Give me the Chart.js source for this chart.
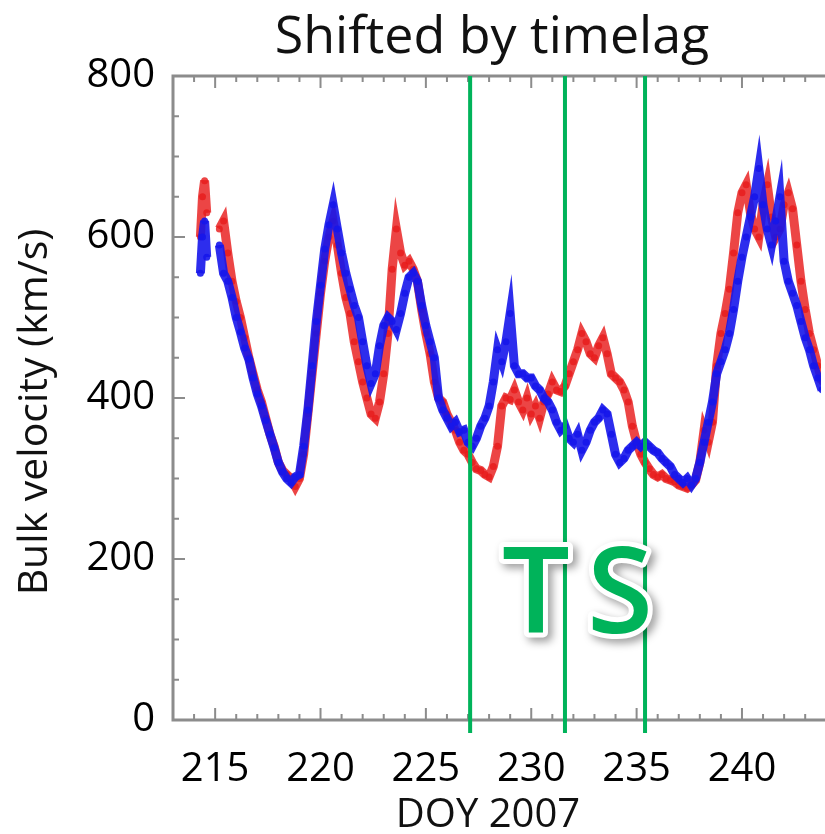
<!DOCTYPE html>
<html>
<head>
<meta charset="utf-8">
<script src="https://cdn.jsdelivr.net/npm/chart.js@4"></script>
<style>
  html, body { margin: 0; padding: 0; background: #fff; overflow: hidden; }
  #wrap { width: 825px; height: 834px; }
</style>
</head>
<body>
<div id="wrap"><canvas id="speedChart" width="825" height="834"></canvas></div>
<script>
// day of year 2007 (null value = data gap)
const days = [
  214.3, 214.4, 214.5, 214.6, 214.9,
  215.2, 215.4, 215.6, 215.8, 216.0, 216.2, 216.4, 216.6, 216.8, 217.0,
  217.2, 217.4, 217.6, 217.8, 218.0, 218.2, 218.4, 218.6, 218.8, 219.0,
  219.2, 219.4, 219.6, 219.8, 220.0, 220.2, 220.4, 220.6, 220.8, 221.0,
  221.2, 221.4, 221.6, 221.8, 222.0, 222.2, 222.4, 222.6, 222.8, 223.0,
  223.2, 223.4, 223.6, 223.8, 224.0, 224.2, 224.4, 224.6, 224.8, 225.0,
  225.2, 225.4, 225.6, 225.8, 226.0, 226.2, 226.4, 226.6, 226.8, 227.0,
  227.2, 227.4, 227.6, 227.8, 228.0, 228.2, 228.4, 228.6, 228.8, 229.0,
  229.2, 229.4, 229.6, 229.8, 230.0, 230.2, 230.4, 230.6, 230.8, 231.0,
  231.2, 231.4, 231.6, 231.8, 232.0, 232.2, 232.4, 232.6, 232.8, 233.0,
  233.2, 233.4, 233.6, 233.8, 234.0, 234.2, 234.4, 234.6, 234.8, 235.0,
  235.2, 235.4, 235.6, 235.8, 236.0, 236.2, 236.4, 236.6, 236.8, 237.0,
  237.2, 237.4, 237.6, 237.8, 238.0, 238.2, 238.4, 238.6, 238.8, 239.0,
  239.2, 239.4, 239.6, 239.8, 240.0, 240.2, 240.4, 240.6, 240.8, 241.0,
  241.2, 241.4, 241.6, 241.8, 242.0, 242.2, 242.4, 242.6, 242.8, 243.0,
  243.2, 243.4, 243.6, 243.8
];

// bulk velocity, km/s (red series)
const redSpeed = [
  600, 650, 670, 630, null,
  610, 620, 580, 545, 520, 500, 475, 450, 430, 410,
  395, 375, 355, 340, 320, 310, 305, 300, 290, 300,
  330, 380, 430, 480, 530, 570, 600, 620, 590, 555,
  525, 505, 470, 445, 420, 400, 380, 375, 395, 430,
  480, 560, 610, 580, 565, 570, 560, 545, 510, 480,
  455, 420, 400, 395, 380, 370, 360, 345, 335, 330,
  320, 312, 310, 305, 302, 315, 340, 390, 400, 398,
  410, 395, 385, 400, 380, 390, 375, 395, 405, 420,
  410, 408, 415, 430, 445, 460, 480, 470, 455, 450,
  465, 475, 455, 430, 425, 420, 410, 395, 365, 345,
  330, 320, 312, 305, 302, 305, 300, 298, 296, 292,
  290, 288, 292, 298, 320, 360, 345, 370, 440, 480,
  505, 535, 580, 630, 655, 665, 630, 610, 600, 640,
  665, 625, 600, 610, 640, 655, 635, 590, 545, 510,
  480, 460, 440, 420
];

// bulk velocity, km/s (blue series)
const blueSpeed = [
  555, 600, 620, 575, null,
  590, 555, 545, 525, 500, 482, 462, 448, 425, 405,
  390, 372, 355, 338, 320, 308, 300, 295, 302, 305,
  340, 385, 440, 495, 540, 585, 615, 640, 610, 580,
  555, 535, 515, 500, 470, 440, 418, 430, 465, 490,
  500, 495, 485, 505, 530, 550, 555, 545, 515, 490,
  470, 450, 400, 385, 375, 365, 370, 358, 360, 345,
  340, 350, 365, 375, 390, 420, 460, 445, 470, 505,
  440, 430, 430, 425, 425, 415, 410, 400, 395, 385,
  370, 360, 365, 350, 345, 355, 335, 345, 360, 370,
  375, 385, 380, 355, 330, 320, 325, 335, 340, 345,
  340, 345, 340, 335, 332, 325, 320, 315, 305, 300,
  295, 300, 292, 300, 320, 345, 370, 395, 430, 445,
  460, 480, 510, 545, 575, 600, 625, 650, 685, 640,
  610, 590, 620, 650, 570, 545, 530, 515, 495, 475,
  460, 440, 425, 410
];

const xTicks = [215, 220, 225, 230, 235, 240];
const yTicks = [0, 200, 400, 600, 800];
const markerDays = [227.1, 231.6, 235.4];

const GREEN = '#00b35a';
const FONT = '"Open Sans", "DejaVu Sans", sans-serif';

function toPoints(values) {
    return days.map((d, i) => ({ x: d, y: values[i] }));
}

const overlayPlugin = {
    id: 'overlay',
    afterDatasetsDraw(chart) {
        const ctx = chart.ctx;
        const { left, right, top, bottom } = chart.chartArea;
        const xs = chart.scales.x;
        const ys = chart.scales.y;
        ctx.save();

        // IDL style frame with inward ticks
        ctx.strokeStyle = '#8c8c8c';
        ctx.lineWidth = 3;
        ctx.beginPath();
        ctx.moveTo(right + 5, top);
        ctx.lineTo(left, top);
        ctx.lineTo(left, bottom);
        ctx.lineTo(right + 5, bottom);
        ctx.stroke();

        ctx.lineWidth = 2;
        ctx.beginPath();
        for (let d = 214; d <= 243; d++) {
            const px = xs.getPixelForValue(d);
            const len = d % 5 === 0 ? 12 : 6;
            ctx.moveTo(px, bottom);
            ctx.lineTo(px, bottom - len);
            ctx.moveTo(px, top);
            ctx.lineTo(px, top + len);
        }
        for (let v = 50; v < 800; v += 50) {
            const py = ys.getPixelForValue(v);
            const len = v % 200 === 0 ? 12 : 6;
            ctx.moveTo(left, py);
            ctx.lineTo(left + len, py);
        }
        ctx.stroke();

        // green boundary lines
        ctx.strokeStyle = GREEN;
        ctx.lineWidth = 4;
        ctx.beginPath();
        markerDays.forEach(d => {
            const px = xs.getPixelForValue(d);
            ctx.moveTo(px, top);
            ctx.lineTo(px, bottom + 13);
        });
        ctx.stroke();
        ctx.restore();
    },
    afterDraw(chart) {
        const ctx = chart.ctx;
        ctx.save();
        ctx.fillStyle = '#111';

        ctx.font = '52px ' + FONT;
        ctx.textAlign = 'center';
        ctx.textBaseline = 'alphabetic';
        ctx.fillText('Shifted by timelag', 492, 53);

        ctx.font = '40px ' + FONT;
        ctx.fillText('DOY 2007', 488, 827);

        ctx.save();
        ctx.translate(35, 412);
        ctx.rotate(-Math.PI / 2);
        ctx.textBaseline = 'middle';
        ctx.font = '41px ' + FONT;
        ctx.fillText('Bulk velocity (km/s)', 0, 0);
        ctx.restore();

        // "TS" label
        ctx.font = '600 120px ' + FONT;
        ctx.lineJoin = 'round';
        ctx.lineWidth = 10;
        ctx.strokeStyle = '#fff';
        ctx.shadowColor = 'rgba(0,0,0,0.4)';
        ctx.shadowBlur = 9;
        ctx.shadowOffsetX = 4;
        ctx.shadowOffsetY = 4;
        ctx.strokeText('T', 536, 633);
        ctx.strokeText('S', 620, 633);
        ctx.shadowColor = 'transparent';
        ctx.fillStyle = GREEN;
        ctx.fillText('T', 536, 633);
        ctx.fillText('S', 620, 633);
        ctx.restore();
    }
};

new Chart(document.getElementById('speedChart'), {
    type: 'line',
    data: {
        datasets: [
            {
                label: 'Blue',
                data: toPoints(blueSpeed),
                borderColor: 'rgba(22, 22, 235, 0.9)',
                backgroundColor: 'rgba(22, 22, 235, 0.9)',
                borderWidth: 9,
                pointRadius: 3.5,
                pointBorderWidth: 0,
                tension: 0,
                spanGaps: false,
                order: 0,
            },
            {
                label: 'Red',
                data: toPoints(redSpeed),
                borderColor: 'rgba(232, 28, 28, 0.82)',
                backgroundColor: 'rgba(232, 28, 28, 0.82)',
                borderWidth: 9,
                pointRadius: 3.5,
                pointBorderWidth: 0,
                tension: 0,
                spanGaps: false,
                order: 1,
            },
        ],
    },
    options: {
        responsive: false,
        animation: false,
        devicePixelRatio: 1,
        layout: { padding: { top: 76, right: 0, left: 0, bottom: 0 } },
        plugins: {
            legend: { display: false },
            tooltip: { enabled: false },
            title: { display: false },
        },
        scales: {
            x: {
                type: 'linear',
                min: 213,
                max: 243.75,
                grid: { display: false, drawTicks: false },
                border: { display: false },
                afterBuildTicks: (scale) => { scale.ticks = xTicks.map(v => ({ value: v })); },
                afterFit: (scale) => { scale.height = 114; },
                ticks: {
                    color: '#000',
                    padding: 26,
                    maxRotation: 0,
                    font: { family: FONT, size: 40 },
                },
            },
            y: {
                min: 0,
                max: 800,
                grid: { display: false, drawTicks: false },
                border: { display: false },
                afterBuildTicks: (scale) => { scale.ticks = yTicks.map(v => ({ value: v })); },
                afterFit: (scale) => { scale.width = 173; },
                ticks: {
                    color: '#000',
                    padding: 18,
                    font: { family: FONT, size: 40 },
                },
            },
        },
    },
    plugins: [overlayPlugin],
});
</script>
</body>
</html>
